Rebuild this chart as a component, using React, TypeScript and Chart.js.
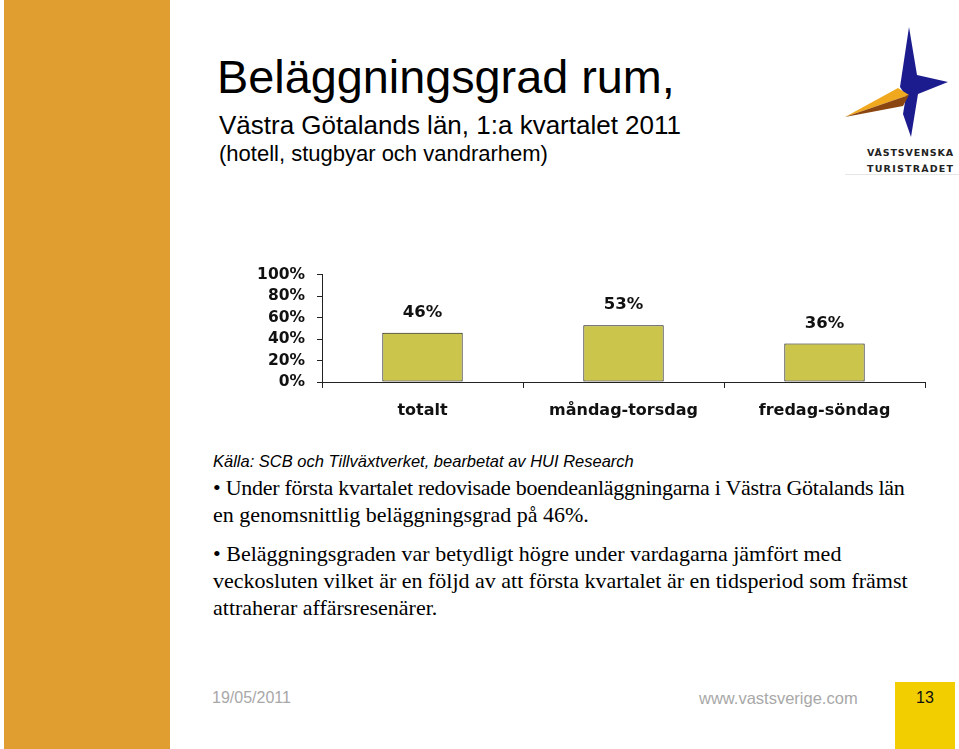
import React, { useEffect, useRef } from "react";
import { Chart, registerables } from "chart.js";

Chart.register(...registerables);

const categories = ["totalt", "måndag-torsdag", "fredag-söndag"];
const occupancy = [46, 53, 36];
const yTickValues = [0, 20, 40, 60, 80, 100];
const yTickLabels = ["0%", "20%", "40%", "60%", "80%", "100%"];

const dataLabelPlugin = {
  id: "dataLabels",
  afterDatasetsDraw(chart: any) {
    const ctx = chart.ctx;
    const meta = chart.getDatasetMeta(0);
    ctx.save();
    ctx.font = "bold 16.5px 'DejaVu Sans', sans-serif";
    ctx.fillStyle = "#111";
    ctx.textAlign = "center";
    ctx.textBaseline = "middle";
    meta.data.forEach((bar: any, i: number) => {
      ctx.fillText(occupancy[i] + "%", bar.x, bar.y - 20);
    });
    ctx.restore();
  },
};

function BarChart() {
  const ref = useRef<HTMLCanvasElement | null>(null);
  useEffect(() => {
    if (!ref.current) return;
    const chart = new Chart(ref.current, {
      type: "bar",
      data: {
        labels: categories,
        datasets: [
          {
            data: occupancy,
            backgroundColor: "#CBC54B",
            borderColor: "#111",
            borderWidth: 1,
            borderSkipped: false,
            barPercentage: 0.4,
            categoryPercentage: 1.0,
          },
        ],
      },
      options: {
        responsive: false,
        animation: false,
        events: [],
        layout: { padding: { top: 18, right: 15, left: 0, bottom: 0 } },
        plugins: { legend: { display: false }, tooltip: { enabled: false } },
        scales: {
          x: {
            grid: {
              display: true,
              drawOnChartArea: false,
              drawTicks: true,
              tickLength: 6,
              color: "#222",
              offset: true,
            },
            border: { display: true, color: "#222", width: 1 },
            ticks: {
              color: "#111",
              padding: 13,
              font: { family: "'DejaVu Sans', sans-serif", size: 16, weight: "bold" },
            },
            afterFit: (s: any) => {
              s.height = 53;
            },
          },
          y: {
            min: 0,
            max: 100,
            afterBuildTicks: (s: any) => {
              s.ticks = yTickValues.map((v) => ({ value: v }));
            },
            grid: {
              display: true,
              drawOnChartArea: false,
              drawTicks: true,
              tickLength: 5,
              color: "#222",
            },
            border: { display: true, color: "#222", width: 1 },
            ticks: {
              color: "#111",
              padding: 12,
              autoSkip: false,
              font: { family: "'DejaVu Sans', sans-serif", size: 15.5, weight: "bold", lineHeight: 1.0 },
              callback: (v: any) => yTickLabels[yTickValues.indexOf(Number(v))],
            },
            afterFit: (s: any) => {
              s.width = 82;
            },
          },
        },
      },
      plugins: [dataLabelPlugin],
    } as any);
    return () => chart.destroy();
  }, []);
  return (
    <canvas
      ref={ref}
      width={700}
      height={180}
      style={{ position: "absolute", left: 240, top: 255, width: 700, height: 180 }}
    />
  );
}

function Logo() {
  return (
    <svg
      width={124}
      height={165}
      viewBox="835 15 124 165"
      style={{ position: "absolute", left: 835, top: 15 }}
    >
      <polygon
        points="909,27 917,75 948,82 918,94 911,137 903,114 906,96 900,87"
        fill="#1C1C8F"
      />
      <polygon points="845,117 898,88 909,95" fill="#F0A81E" />
      <polygon points="845,117 909,95 903,106" fill="#8A4510" />
      <text
        x={867}
        y={156}
        fontFamily="'DejaVu Sans', sans-serif"
        fontSize={9.5}
        fontWeight="bold"
        fill="#222"
        textLength={86}
        lengthAdjust="spacing"
      >
        VÄSTSVENSKA
      </text>
      <text
        x={867}
        y={171.5}
        fontFamily="'DejaVu Sans', sans-serif"
        fontSize={9.5}
        fontWeight="bold"
        fill="#222"
        textLength={86}
        lengthAdjust="spacing"
      >
        TURISTRÅDET
      </text>
      <line x1={845} y1={174.5} x2={959} y2={174.5} stroke="#e6e6e6" strokeWidth={1} />
    </svg>
  );
}

const sans = "'Liberation Sans', Arial, sans-serif";
const serif = "'Liberation Serif', 'Times New Roman', serif";

export default function App() {
  const abs = (left: number, top: number, extra: any) => ({
    position: "absolute" as const,
    left,
    top,
    whiteSpace: "nowrap" as const,
    margin: 0,
    ...extra,
  });
  return (
    <div
      style={{
        position: "fixed",
        left: 0,
        top: 0,
        width: 959,
        height: 749,
        background: "#fff",
        overflow: "hidden",
      }}
    >
      <div style={{ position: "absolute", left: 4, top: 0, width: 166, height: 749, background: "#E09D30" }} />
      <div style={abs(217, 54, { fontFamily: sans, fontSize: 46.8, lineHeight: "46px", color: "#000" })}>
        Beläggningsgrad rum,
      </div>
      <div style={abs(219, 112, { fontFamily: sans, fontSize: 26, lineHeight: "26px", color: "#000" })}>
        Västra Götalands län, 1:a kvartalet 2011
      </div>
      <div style={abs(219, 143, { fontFamily: sans, fontSize: 22, lineHeight: "22px", color: "#000" })}>
        (hotell, stugbyar och vandrarhem)
      </div>
      <Logo />
      <BarChart />
      <div
        style={abs(213, 453, {
          fontFamily: sans,
          fontSize: 16.5,
          lineHeight: "16.5px",
          fontStyle: "italic",
          color: "#000",
        })}
      >
        Källa: SCB och Tillväxtverket, bearbetat av HUI Research
      </div>
      <div style={abs(213, 474, { fontFamily: serif, fontSize: 22, lineHeight: "27px", color: "#000" })}>
        <span style={{ letterSpacing: "-0.27px" }}>
          • Under första kvartalet redovisade boendeanläggningarna i Västra Götalands län
        </span>
        <br />
        en genomsnittlig beläggningsgrad på 46%.
      </div>
      <div style={abs(213, 540, { fontFamily: serif, fontSize: 22, lineHeight: "27px", color: "#000" })}>
        • Beläggningsgraden var betydligt högre under vardagarna jämfört med
        <br />
        veckosluten vilket är en följd av att första kvartalet är en tidsperiod som främst
        <br />
        attraherar affärsresenärer.
      </div>
      <div style={abs(212, 690, { fontFamily: sans, fontSize: 16, lineHeight: "16px", color: "#a8a8a8" })}>
        19/05/2011
      </div>
      <div style={abs(699, 690, { fontFamily: sans, fontSize: 16.5, lineHeight: "16px", color: "#a8a8a8" })}>
        www.vastsverige.com
      </div>
      <div
        style={{
          position: "absolute",
          left: 895,
          top: 682,
          width: 60,
          height: 67,
          background: "#F2CE00",
        }}
      />
      <div
        style={abs(895, 690, {
          width: 60,
          textAlign: "center",
          fontFamily: sans,
          fontSize: 16,
          lineHeight: "16px",
          color: "#111",
        })}
      >
        13
      </div>
    </div>
  );
}
